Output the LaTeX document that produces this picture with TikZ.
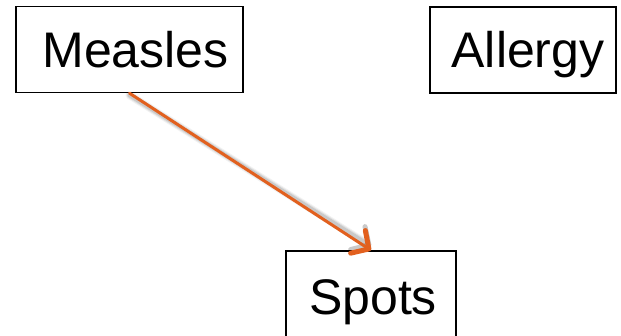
\documentclass[tikz,border=0pt]{standalone}
\usepackage{fontspec}
\setmainfont{Liberation Sans}
\usetikzlibrary{arrows.meta,calc}
\definecolor{linkorange}{RGB}{226,96,30}
\tikzset{
  varbox/.style={draw=black, line width=1.4pt, fill=white, inner sep=0pt,
    font=\fontsize{50}{50}\selectfont, text=black, minimum height=86pt,
    text height=35.5pt, text depth=0pt},
  linkhead/.style={-{Straight Barb[length=13pt,width=27pt,line width=5pt,line cap=round,line join=round]}},
  causal/.style={draw=linkorange, line width=3pt, line cap=round, linkhead},
  causalshadow/.style={draw=black, line width=#1, line cap=round, linkhead}
}
\begin{document}
\begin{tikzpicture}[x=1pt,y=-1pt]
  \useasboundingbox (0,0) rectangle (621,335);
  \fill[white] (0,0) rectangle (621,335);
  % variables
  \node[varbox, minimum width=227pt] (measles) at (129.5,49.5) {\hspace*{12pt}Measles};
  \node[varbox, minimum width=186pt] (allergy) at (523,50) {\hspace*{10pt}Allergy};
  \node[varbox, minimum width=170pt, minimum height=92pt] (spots) at (371,297) {\hspace*{4pt}Spots};
  % soft drop shadow under the causal link
  \begin{scope}[shift={(2.5,4.5)}]
    \foreach \w/\o in {8pt/0.05, 6pt/0.07, 4pt/0.10}
      \draw[causalshadow=\w, draw opacity=\o] (measles.south) ++(0,2) -- ($(spots.north)+(0,-4)$);
  \end{scope}
  % causal link
  \draw[causal] (measles.south) -- (spots.north);
\end{tikzpicture}
\end{document}
